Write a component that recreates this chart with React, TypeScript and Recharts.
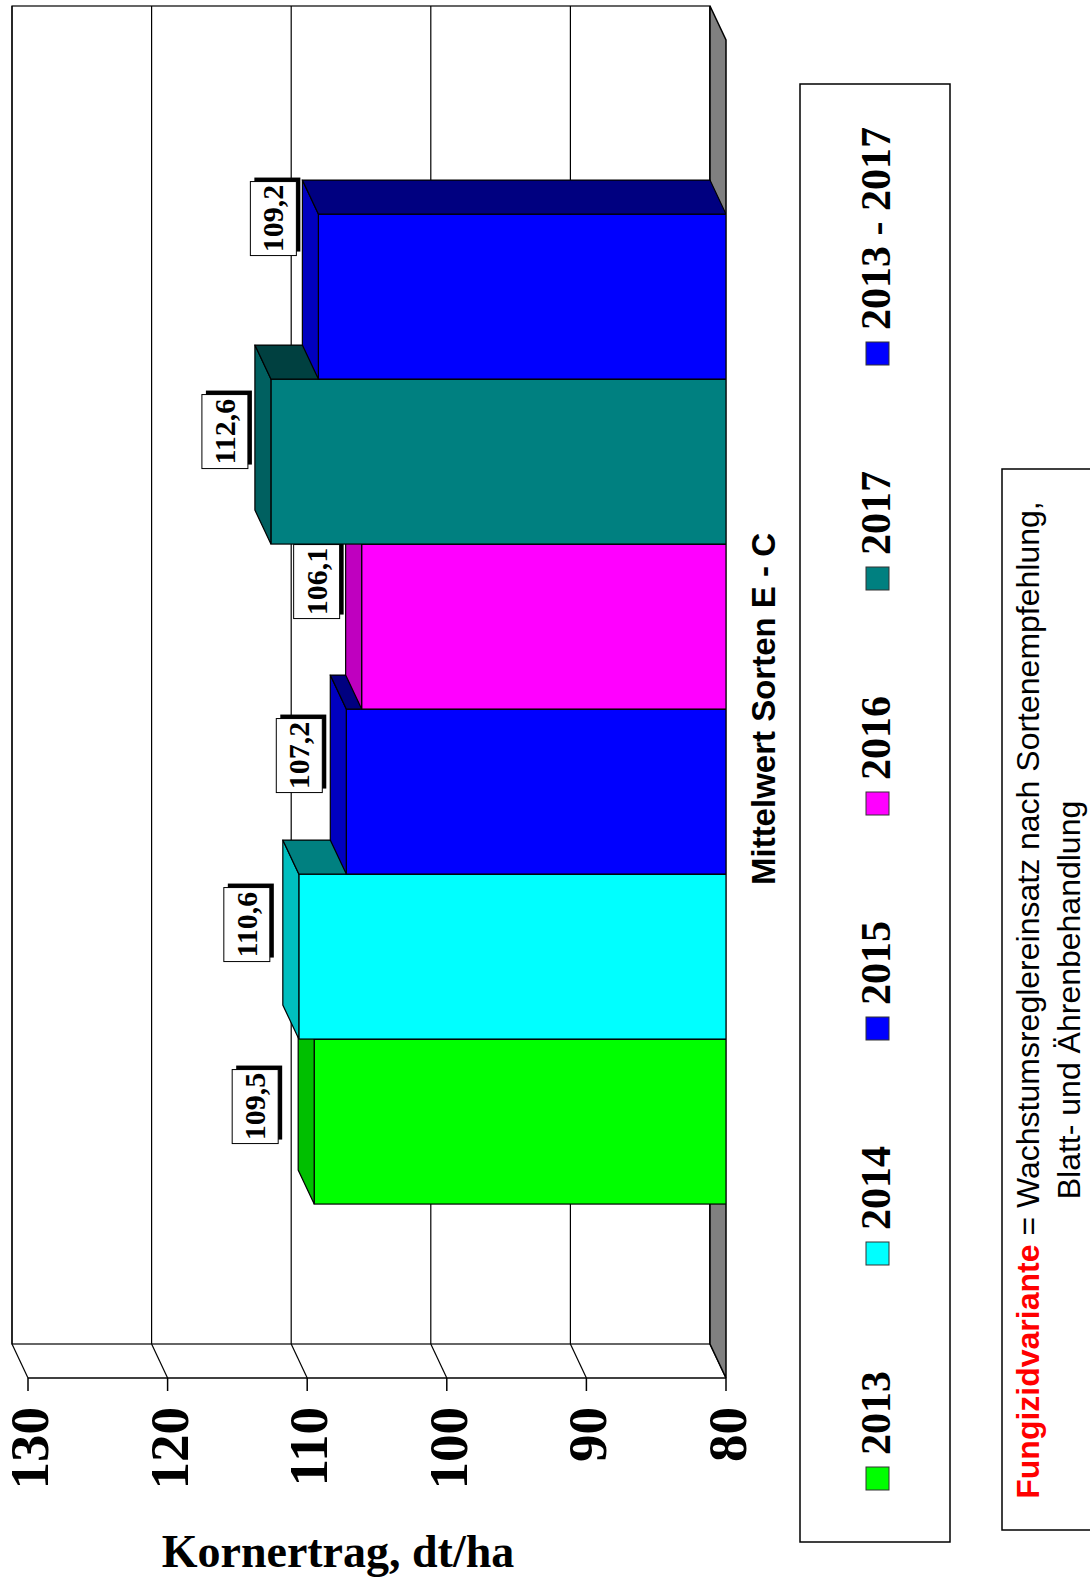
import React from 'react';
import { BarChart, Bar, XAxis, YAxis } from 'recharts';

// data
const CATEGORY = 'Mittelwert Sorten E - C';
const SERIES = ['2013', '2014', '2015', '2016', '2017', '2013 - 2017'];
const VALUES = [109.5, 110.6, 107.2, 106.1, 112.6, 109.2];
const Y_TICKS = [80, 90, 100, 110, 120, 130];
const Y_TITLE = 'Kornertrag, dt/ha';
const NOTE_KEY = 'Fungizidvariante';
const NOTE_LINE1 = ' = Wachstumsreglereinsatz nach Sortenempfehlung,';
const NOTE_LINE2 = 'Blatt- und Ährenbehandlung';

// styles
const COLORS = ['#00FF00', '#00FFFF', '#0000FF', '#FF00FF', '#008080', '#0000FF'];
const LABEL_NUDGE = [15, 32, 36, 45, 30, 78]; // sideways shift of each value box
const LABEL_GAP = [20, 13, 8, 6, 7, 6]; // space between bar top and value box
const SERIF = "'Liberation Serif', 'Times New Roman', serif";
const SANS = "'Liberation Sans', Arial, sans-serif";

// the chart is drawn landscape and turned a quarter to the left
const W = 1578;
const H = 1090;
const PLOT_LEFT = 200;
const PLOT_RIGHT = 1538;
const PLOT_TOP = 28;
const PLOT_BOTTOM = 726;
const DU = 34; // depth, to the right
const DV = 16; // depth, upwards
const Y_MIN = 80;
const Y_MAX = 130;

const vOf = (val: number) => PLOT_TOP + ((Y_MAX - val) / (Y_MAX - Y_MIN)) * (PLOT_BOTTOM - PLOT_TOP);

const rowData = [
  SERIES.reduce((row: any, s, i) => {
    row['s' + i] = VALUES[i];
    return row;
  }, { name: CATEGORY }),
];

function shade(hex: string, f: number) {
  const n = parseInt(hex.slice(1), 16);
  const r = Math.round(((n >> 16) & 255) * f);
  const g = Math.round(((n >> 8) & 255) * f);
  const b = Math.round((n & 255) * f);
  return `rgb(${r},${g},${b})`;
}

const fmt = (v: number) => v.toFixed(1).replace('.', ',');

function Bar3D(props: any) {
  const { x, y, width, height, si } = props;
  if (width == null || height == null) return null;
  const c = COLORS[si];
  const top = `${x},${y} ${x + DU},${y - DV} ${x + width + DU},${y - DV} ${x + width},${y}`;
  const side = `${x + width},${y} ${x + width + DU},${y - DV} ${x + width + DU},${y + height - DV} ${x + width},${y + height}`;
  const bw = 74;
  const bh = 46;
  const cx = x + width / 2 + LABEL_NUDGE[si];
  const by = y - DV - LABEL_GAP[si] - bh;
  return (
    <g>
      <rect x={x} y={y} width={width} height={height} fill={c} stroke="#000" strokeWidth={1.2} />
      <polygon points={top} fill={shade(c, 0.75)} stroke="#000" strokeWidth={1.2} />
      <polygon points={side} fill={shade(c, 0.5)} stroke="#000" strokeWidth={1.2} />
      <rect x={cx - bw / 2 + 4} y={by + 4} width={bw} height={bh} fill="#000" />
      <rect x={cx - bw / 2} y={by} width={bw} height={bh} fill="#fff" stroke="#000" strokeWidth={1} />
      <text x={cx} y={by + bh / 2 + 10} textAnchor="middle" fontFamily={SERIF} fontWeight="bold" fontSize={30} fill="#000">
        {fmt(VALUES[si])}
      </text>
    </g>
  );
}

function YTick(props: any) {
  const { x, y, payload } = props;
  return (
    <text x={x} y={y + 20} textAnchor="end" fontFamily={SERIF} fontWeight="bold" fontSize={55} fill="#000">
      {payload.value}
    </text>
  );
}

function Backdrop() {
  const backL = PLOT_LEFT + DU;
  const backR = PLOT_RIGHT + DU;
  const backT = PLOT_TOP - DV;
  const backB = PLOT_BOTTOM - DV;
  const legU0 = 88;
  const legStep = 225;
  return (
    <svg width={W} height={H} style={{ position: 'absolute', left: 0, top: 0 }}>
      {/* back wall */}
      <rect x={backL} y={backT} width={backR - backL} height={backB - backT} fill="#fff" stroke="#000" strokeWidth={1.2} />
      {Y_TICKS.map((t) => (
        <g key={t}>
          <line x1={backL} y1={vOf(t) - DV} x2={backR} y2={vOf(t) - DV} stroke="#000" strokeWidth={1.2} />
          <line x1={PLOT_LEFT} y1={vOf(t)} x2={backL} y2={vOf(t) - DV} stroke="#000" strokeWidth={1.2} />
        </g>
      ))}
      {/* floor */}
      <polygon
        points={`${PLOT_LEFT},${PLOT_BOTTOM} ${backL},${backB} ${backR},${backB} ${PLOT_RIGHT},${PLOT_BOTTOM}`}
        fill="#808080"
        stroke="#000"
        strokeWidth={1.5}
      />
      {/* axis title */}
      <text
        x={11}
        y={338}
        transform="rotate(90 11 338)"
        textAnchor="middle"
        fontFamily={SERIF}
        fontWeight="bold"
        fontSize={46}
        fill="#000"
      >
        {Y_TITLE}
      </text>
      {/* legend */}
      <rect x={36} y={800} width={1494 - 36} height={150} fill="#fff" stroke="#000" strokeWidth={1.5} />
      {SERIES.map((s, i) => (
        <g key={s}>
          <rect x={legU0 + i * legStep} y={866} width={23} height={23} fill={COLORS[i]} stroke="#333" strokeWidth={1} />
          <text x={legU0 + i * legStep + 35} y={890} fontFamily={SERIF} fontWeight="bold" fontSize={42} fill="#000">
            {s}
          </text>
        </g>
      ))}
      {/* note */}
      <rect x={48} y={1002} width={1109 - 48} height={120} fill="#fff" stroke="#000" strokeWidth={1.5} />
      <text x={578} y={1039} textAnchor="middle" fontFamily={SANS} fontSize={32} fill="#000">
        <tspan fill="#FF0000" fontWeight="bold">
          {NOTE_KEY}
        </tspan>
        <tspan>{NOTE_LINE1}</tspan>
      </text>
      <text x={578} y={1080} textAnchor="middle" fontFamily={SANS} fontSize={32} fill="#000">
        {NOTE_LINE2}
      </text>
    </svg>
  );
}

export default function App() {
  return (
    <div style={{ position: 'absolute', left: 0, top: 0, width: H, height: W, overflow: 'hidden', background: '#fff' }}>
      <div
        style={{
          position: 'absolute',
          left: 0,
          top: 0,
          width: W,
          height: H,
          transformOrigin: '0 0',
          transform: `translate(0px, ${W}px) rotate(-90deg)`,
        }}
      >
        <Backdrop />
        <BarChart
          width={W}
          height={H}
          data={rowData}
          margin={{ top: PLOT_TOP, right: W - PLOT_RIGHT, bottom: H - PLOT_BOTTOM - 60, left: PLOT_LEFT - 100 }}
          barCategoryGap="13%"
          barGap={0}
        >
          <XAxis
            dataKey="name"
            height={60}
            axisLine={false}
            tickLine={false}
            tick={(p: any) => (
              <text
                x={p.x}
                y={PLOT_BOTTOM + 49}
                textAnchor="middle"
                fontFamily={SANS}
                fontWeight="bold"
                fontSize={33}
                fill="#000"
              >
                {p.payload.value}
              </text>
            )}
          />
          <YAxis
            type="number"
            width={100}
            domain={[Y_MIN, Y_MAX]}
            ticks={Y_TICKS}
            interval={0}
            allowDataOverflow
            tickSize={13}
            tickMargin={16}
            axisLine={{ stroke: '#000', strokeWidth: 1.5 }}
            tickLine={{ stroke: '#000', strokeWidth: 1.5 }}
            tick={<YTick />}
          />
          {SERIES.map((s, i) => (
            <Bar
              key={s}
              dataKey={'s' + i}
              name={s}
              fill={COLORS[i]}
              isAnimationActive={false}
              shape={(p: any) => <Bar3D {...p} si={i} />}
            />
          ))}
        </BarChart>
      </div>
    </div>
  );
}
